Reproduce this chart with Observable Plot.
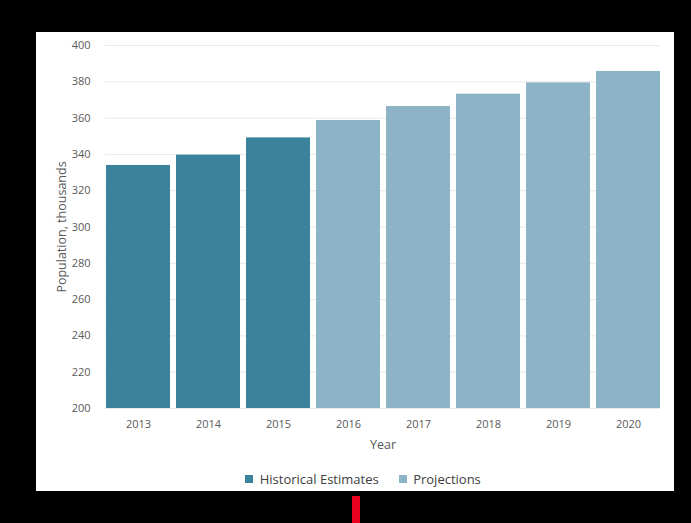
<!DOCTYPE html>
<html>
<head>
<meta charset="utf-8">
<script src="https://cdn.jsdelivr.net/npm/d3@7"></script>
<script src="https://cdn.jsdelivr.net/npm/@observablehq/plot@0.6"></script>
<style>
  html, body { margin: 0; padding: 0; background: #000; width: 691px; height: 523px; overflow: hidden; }
  #panel { position: absolute; left: 36px; top: 32px; width: 638px; height: 459px; background: #fff; font-family: "Open Sans", sans-serif; }
  #chart { position: absolute; left: 0; top: 0; }
  #legend { position: absolute; left: 8px; top: 430px; width: 638px; display: flex; justify-content: center; }
  #legend > * { margin: 0 !important; }
  #legend span { margin-right: 20px !important; }
  #legend span:last-child { margin-right: 0 !important; }
  #redbar { position: absolute; left: 352px; top: 496px; width: 8px; height: 27px; background: #e8001c; }
</style>
</head>
<body>
<div id="panel"><div id="chart"></div><div id="legend"></div></div>
<div id="redbar"></div>
<script>
const years = ["2013", "2014", "2015", "2016", "2017", "2018", "2019", "2020"];
const population = [333.9, 339.6, 349.1, 358.7, 366.4, 373.2, 379.4, 385.7];
const seriesType = ["Historical Estimates", "Historical Estimates", "Historical Estimates", "Projections", "Projections", "Projections", "Projections", "Projections"];
const seriesNames = ["Historical Estimates", "Projections"];
const seriesColors = ["#3b829c", "#8db4c6"];
const yTicks = [200, 220, 240, 260, 280, 300, 320, 340, 360, 380, 400];

const data = years.map((y, i) => ({year: y, value: population[i], type: seriesType[i]}));

const colorOpts = {domain: seriesNames, range: seriesColors};

const chart = Plot.plot({
  width: 638,
  height: 426,
  marginLeft: 69,
  marginRight: 14,
  marginTop: 13,
  marginBottom: 50,
  style: {fontFamily: "Open Sans, sans-serif", fontSize: "11px", color: "#595959", background: "#fff"},
  x: {domain: years, paddingInner: 0.09, paddingOuter: 0},
  y: {domain: [200, 400]},
  color: colorOpts,
  marks: [
    Plot.gridY(yTicks, {stroke: "#d9d9d9", strokeOpacity: 0.6}),
    Plot.barY(data, {x: "year", y1: 200, y2: "value", fill: "type"}),
    Plot.axisX({tickSize: 0, tickPadding: 12, label: "Year", labelAnchor: "center", labelOffset: 40, fontSize: 11}),
    Plot.axisY(yTicks, {tickSize: 0, tickPadding: 15, label: "Population, thousands", labelAnchor: "center", labelOffset: 48, labelArrow: "none", fontSize: 11})
  ]
});
chart.querySelectorAll("g[aria-label='x-axis label'] text, g[aria-label='y-axis label'] text").forEach(t => { t.style.fontSize = "12.5px"; });
document.getElementById("chart").appendChild(chart);

const legend = Plot.legend({
  color: colorOpts,
  legend: "swatches",
  swatchSize: 8,
  style: {fontFamily: "Open Sans, sans-serif", fontSize: "13px", color: "#404040", background: "transparent"}
});
document.getElementById("legend").appendChild(legend);
</script>
</body>
</html>
